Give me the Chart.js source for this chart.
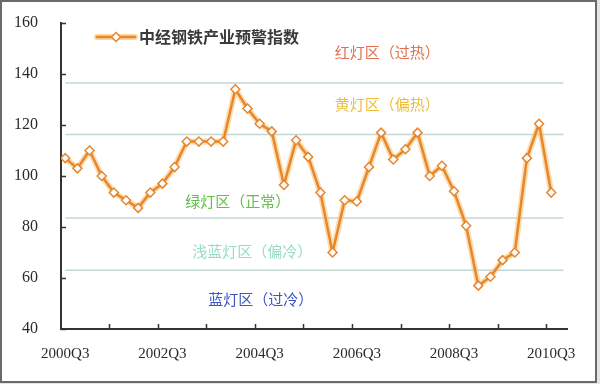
<!DOCTYPE html>
<html>
<head>
<meta charset="utf-8">
<script src="https://cdn.jsdelivr.net/npm/chart.js@4.4.1/dist/chart.umd.min.js"></script>
<style>
  html, body { margin: 0; padding: 0; background: #e4e4e4; }
  #wrap { position: relative; width: 600px; height: 384px; }
  #frame { position: absolute; left: 0; top: 0; width: 593px; height: 379px; border: 2px solid #6a6a6a; background: #fff; }
  canvas { position: absolute; left: 0; top: 0; }
</style>
</head>
<body>
<div id="wrap">
  <div id="frame"></div>
  <canvas id="chart" width="600" height="384"></canvas>
</div>
<script>
// quarters on the x axis
var quarters = [
  "2000Q3","2000Q4","2001Q1","2001Q2","2001Q3","2001Q4","2002Q1","2002Q2",
  "2002Q3","2002Q4","2003Q1","2003Q2","2003Q3","2003Q4","2004Q1","2004Q2",
  "2004Q3","2004Q4","2005Q1","2005Q2","2005Q3","2005Q4","2006Q1","2006Q2",
  "2006Q3","2006Q4","2007Q1","2007Q2","2007Q3","2007Q4","2008Q1","2008Q2",
  "2008Q3","2008Q4","2009Q1","2009Q2","2009Q3","2009Q4","2010Q1","2010Q2",
  "2010Q3"
]
// 中经钢铁产业预警指数
var steelIndex = [
  107, 103, 110, 100, 93.5, 90.5, 87.5, 93.5,
  97, 103.5, 113.5, 113.5, 113.5, 113.5, 134, 126.5,
  120.5, 117.5, 96.5, 114, 107.5, 93.5, 70, 90.5,
  90, 103.5, 117, 106.5, 110.5, 117, 100, 104,
  94, 80.5, 57, 60.5, 67, 70, 107, 120.5,
  93.5
]
var seriesName = "中经钢铁产业预警指数"
// zone boundaries, top to bottom
var zoneBounds = [136.5, 116.3, 83.5, 63]
var zoneNames = ["红灯区（过热）", "黄灯区（偏热）", "绿灯区（正常）", "浅蓝灯区（偏冷）", "蓝灯区（过冷）"]
var yTicks = [40, 60, 80, 100, 120, 140, 160]

var zoneColors = ["#e2704e", "#ecbe3c", "#62bf48", "#96dcc8", "#3c55c2"]
// where each zone caption sits (x index, y value)
var zoneTextPos = [[26.5, 148.4], [26.5, 128], [14.2, 90], [15.4, 70.4], [16.1, 51.6]]

var lineColor = "#e8862c"

var zoneSets = zoneBounds.map(function(b) {
  return {
    data: [{x: 0, y: b}, {x: 41, y: b}],
    borderColor: "#c3d6d6",
    borderWidth: 1.5,
    pointRadius: 0,
    order: 3
  }
})

var points = steelIndex.map(function(v, i) { return {x: i, y: v} })

var extras = {
  id: "extras",
  afterDraw: function(chart) {
    var ctx = chart.ctx
    var xs = chart.scales.x, ys = chart.scales.y
    var area = chart.chartArea
    ctx.save()
    // inside tick marks
    ctx.strokeStyle = "#333"
    ctx.lineWidth = 1.5
    yTicks.forEach(function(t) {
      var py = Math.round(ys.getPixelForValue(t)) + 0.5
      ctx.beginPath(); ctx.moveTo(area.left, py); ctx.lineTo(area.left + 5, py); ctx.stroke()
    })
    for (var k = 0; k < 10; k++) {
      var px = Math.round(xs.getPixelForValue(3.6 + 4 * k)) + 0.5
      ctx.beginPath(); ctx.moveTo(px, area.bottom); ctx.lineTo(px, area.bottom - 5); ctx.stroke()
    }
    // zone captions
    ctx.font = "15px 'Noto Sans CJK SC'"
    ctx.textAlign = "center"
    ctx.textBaseline = "middle"
    zoneNames.forEach(function(name, i) {
      ctx.fillStyle = zoneColors[i]
      ctx.fillText(name, xs.getPixelForValue(zoneTextPos[i][0]), ys.getPixelForValue(zoneTextPos[i][1]))
    })
    // legend
    var ly = 37
    ctx.lineCap = "round"
    ctx.strokeStyle = "rgba(250,196,120,0.7)"
    ctx.lineWidth = 6
    ctx.beginPath(); ctx.moveTo(97, ly); ctx.lineTo(135, ly); ctx.stroke()
    ctx.strokeStyle = lineColor
    ctx.lineWidth = 2.5
    ctx.beginPath(); ctx.moveTo(97, ly); ctx.lineTo(135, ly); ctx.stroke()
    ctx.fillStyle = "#fff"
    ctx.lineWidth = 1.5
    ctx.beginPath()
    ctx.moveTo(116, ly - 4.5); ctx.lineTo(120.5, ly); ctx.lineTo(116, ly + 4.5); ctx.lineTo(111.5, ly)
    ctx.closePath(); ctx.fill(); ctx.stroke()
    ctx.fillStyle = "#3a3a3a"
    ctx.font = "bold 16px 'Noto Sans CJK SC'"
    ctx.textAlign = "left"
    ctx.fillText(seriesName, 139, ly)
    ctx.restore()
  }
}

var ctx = document.getElementById("chart")
var chart = new Chart(ctx, {
  type: "line",
  data: {
    datasets: [{
      label: seriesName,
      data: points,
      borderColor: lineColor,
      borderWidth: 2.5,
      borderJoinStyle: "round",
      pointStyle: "rectRot",
      pointRadius: 4.5,
      pointBackgroundColor: "#fff",
      pointBorderColor: lineColor,
      pointBorderWidth: 1.5,
      order: 1
    }, {
      // soft halo under the main line
      data: points,
      borderColor: "rgba(250,196,120,0.6)",
      borderWidth: 6,
      borderJoinStyle: "round",
      borderCapStyle: "round",
      pointRadius: 0,
      order: 2
    }].concat(zoneSets)
  },
  options: {
    responsive: false,
    animation: false,
    layout: { padding: { top: 23, right: 33, left: 0, bottom: 0 } },
    plugins: {
      legend: { display: false },
      tooltip: { enabled: false }
    },
    scales: {
      x: {
        type: "linear",
        min: -0.35,
        max: 41.3,
        afterBuildTicks: function(scale) {
          scale.ticks = [0, 8, 16, 24, 32, 40].map(function(v) { return {value: v} })
        },
        afterFit: function(scale) { scale.height = 55 },
        grid: { display: false, drawTicks: false },
        border: { display: true, color: "#333", width: 2 },
        ticks: {
          autoSkip: false,
          maxRotation: 0,
          padding: 16,
          color: "#2a2a2a",
          font: { family: "'Liberation Serif'", size: 15 },
          callback: function(v) { return quarters[v] }
        }
      },
      y: {
        min: 40,
        max: 160,
        afterFit: function(scale) {
          scale.width = 61
          scale.paddingTop = 0
          scale.paddingBottom = 0
        },
        grid: { display: false, drawTicks: false },
        border: { display: true, color: "#333", width: 2 },
        ticks: {
          stepSize: 20,
          padding: 23,
          color: "#2a2a2a",
          font: { family: "'Liberation Serif'", size: 16 }
        }
      }
    }
  },
  plugins: [extras]
})
</script>
</body>
</html>
